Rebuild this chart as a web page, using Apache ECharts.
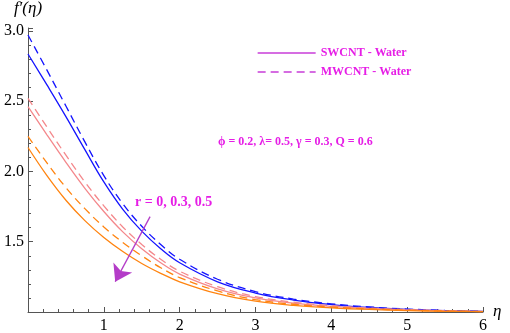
<!DOCTYPE html>
<html>
<head>
<meta charset="utf-8">
<script src="https://cdn.jsdelivr.net/npm/echarts@6/dist/echarts.min.js"></script>
<style>
  html, body { margin: 0; padding: 0; background: #fff; }
  #chart-container { width: 510px; height: 333px; }
</style>
</head>
<body>
<div id="chart-container"></div>
<script>
// eta grid and f'(eta)
var eta = [0, 0.25, 0.5, 0.75, 1, 1.25, 1.5, 1.75, 2, 2.5, 3, 3.5, 4, 4.5, 5, 5.5, 6];
var swR0  = [2.835, 2.615, 2.39, 2.155, 1.925, 1.73, 1.575, 1.45, 1.35, 1.215, 1.135, 1.085, 1.053, 1.032, 1.018, 1.009, 1.004];
var swR03 = [2.46, 2.26, 2.065, 1.88, 1.715, 1.57, 1.45, 1.35, 1.27, 1.165, 1.10, 1.063, 1.040, 1.025, 1.015, 1.008, 1.003];
var swR05 = [2.17, 1.97, 1.795, 1.65, 1.53, 1.43, 1.345, 1.275, 1.215, 1.13, 1.077, 1.047, 1.030, 1.018, 1.010, 1.005, 1.002];
var mwR0  = [2.97, 2.72, 2.465, 2.21, 1.97, 1.77, 1.61, 1.48, 1.375, 1.233, 1.145, 1.092, 1.058, 1.036, 1.021, 1.011, 1.005];
var mwR03 = [2.52, 2.315, 2.115, 1.925, 1.755, 1.605, 1.48, 1.375, 1.29, 1.18, 1.11, 1.07, 1.045, 1.028, 1.017, 1.009, 1.004];
var mwR05 = [2.25, 2.06, 1.885, 1.735, 1.605, 1.495, 1.40, 1.315, 1.245, 1.15, 1.088, 1.055, 1.035, 1.022, 1.013, 1.007, 1.003];

var xMajor = [1, 2, 3, 4, 5, 6];
var xMinor = [0.2, 0.4, 0.6, 0.8, 1.2, 1.4, 1.6, 1.8, 2.2, 2.4, 2.6, 2.8, 3.2, 3.4, 3.6, 3.8,
              4.2, 4.4, 4.6, 4.8, 5.2, 5.4, 5.6, 5.8];
var arrowFrom = [1.61, 1.678];
var arrowTo = [1.15, 1.216];

function pairs(ys) {
  return eta.map(function (x, i) { return [x, ys[i]]; });
}

var dom = document.getElementById('chart-container');
var myChart = echarts.init(dom, null, { renderer: 'canvas' });

var blue = '#1414ff', salmon = '#f4888c', orange = '#ff8410';
var magenta = '#e61ee6', violet = '#c83cd8';
var serif = '"Liberation Serif", "DejaVu Serif", serif';

function curve(name, ys, color, dashed) {
  return {
    name: name,
    type: 'line',
    data: pairs(ys),
    smooth: 0.4,
    symbol: 'none',
    lineStyle: { color: color, width: 1.3, type: dashed ? [8, 5] : 'solid' },
    itemStyle: { color: color },
    animation: false
  };
}

var series = [
  curve('SWCNT - Water', swR0, blue, false),
  curve('MWCNT - Water', mwR0, blue, true),
  curve('SWCNT - Water', swR03, salmon, false),
  curve('MWCNT - Water', mwR03, salmon, true),
  curve('SWCNT - Water', swR05, orange, false),
  curve('MWCNT - Water', mwR05, orange, true)
];
series[0].markLine = {
  silent: true,
  animation: false,
  symbol: ['none', 'arrow'],
  symbolSize: 16,
  label: { show: false },
  lineStyle: { color: '#b43cc8', width: 1.3, type: 'solid' },
  data: [[{ coord: arrowFrom }, { coord: arrowTo }]]
};

var noMarker = { color: 'rgba(0,0,0,0)', borderWidth: 0 };

var option = {
  backgroundColor: '#fff',
  grid: { left: 28, right: 27, top: 28, bottom: 21, containLabel: false, outerBoundsMode: 'none' },
  xAxis: [{
    type: 'value',
    min: 0,
    max: 6,
    name: 'η',
    nameLocation: 'end',
    nameGap: 8,
    nameTextStyle: { fontFamily: serif, fontStyle: 'italic', fontSize: 17, color: '#000' },
    axisLine: { lineStyle: { color: '#555', width: 1 } },
    axisTick: { show: true, inside: true, length: 5, customValues: xMajor, lineStyle: { color: '#555' } },
    axisLabel: { customValues: xMajor, margin: 6, fontFamily: serif, fontSize: 16, color: '#000' },
    splitLine: { show: false }
  }, {
    type: 'value',
    min: 0,
    max: 6,
    position: 'bottom',
    axisLine: { show: false },
    axisTick: { show: true, inside: true, length: 3, customValues: xMinor, lineStyle: { color: '#555' } },
    axisLabel: { show: false },
    splitLine: { show: false }
  }],
  yAxis: {
    type: 'value',
    min: 1.0,
    max: 3.02,
    interval: 0.5,
    name: "f\u2032(η)",
    nameLocation: 'end',
    nameGap: 11,
    nameTextStyle: { fontFamily: serif, fontStyle: 'italic', fontSize: 17, color: '#000' },
    axisLine: { lineStyle: { color: '#555', width: 1 } },
    axisTick: { inside: true, length: 5, lineStyle: { color: '#555' } },
    minorTick: { show: true, splitNumber: 5, length: 3, lineStyle: { color: '#555' } },
    axisLabel: {
      margin: 4,
      fontFamily: serif,
      fontSize: 16,
      color: '#000',
      formatter: function (v) { return v === 1 ? '' : v.toFixed(1); }
    },
    splitLine: { show: false }
  },
  legend: {
    orient: 'vertical',
    left: 252,
    top: 42,
    itemWidth: 58,
    itemHeight: 14,
    itemGap: 7,
    selectedMode: false,
    textStyle: { fontFamily: serif, fontWeight: 'bold', fontSize: 12, color: magenta },
    data: [
      { name: 'SWCNT - Water', lineStyle: { color: violet, width: 1.3 }, itemStyle: noMarker },
      { name: 'MWCNT - Water', lineStyle: { color: violet, width: 1.3 }, itemStyle: noMarker }
    ]
  },
  graphic: [
    {
      type: 'text',
      left: 218,
      top: 136,
      style: {
        text: 'ϕ = 0.2, λ= 0.5, γ = 0.3, Q = 0.6',
        font: 'bold 12px ' + serif,
        fill: magenta
      }
    },
    {
      type: 'text',
      left: 135,
      top: 195,
      style: {
        text: 'r = 0, 0.3, 0.5',
        font: 'bold 14px ' + serif,
        fill: magenta
      }
    }
  ],
  series: series
};

myChart.setOption(option);
window.addEventListener('resize', myChart.resize);
</script>
</body>
</html>
